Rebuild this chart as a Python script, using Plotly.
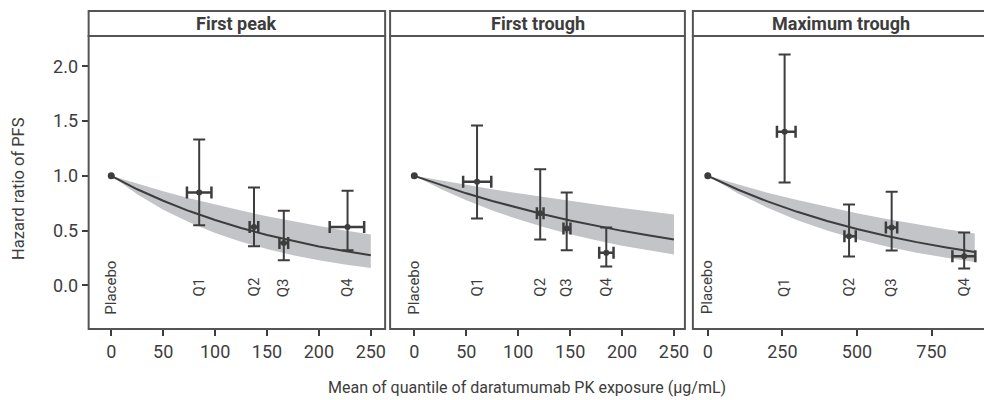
import plotly.graph_objects as go

# ---------------- data ----------------
panel_titles = ["First peak", "First trough", "Maximum trough"]
quartile_labels = ["Q1", "Q2", "Q3", "Q4"]
placebo_label = "Placebo"
placebo_hr = 1.0

# model-predicted curve and 95% band
peak_grid = [0, 25, 50, 75, 100, 125, 150, 175, 200, 225, 250]
peak_fit = [1.00, 0.877, 0.772, 0.678, 0.596, 0.523, 0.459, 0.404, 0.355, 0.312, 0.274]
peak_upper = [1.00, 0.926, 0.858, 0.794, 0.736, 0.682, 0.631, 0.585, 0.541, 0.501, 0.464]
peak_lower = [1.00, 0.832, 0.691, 0.575, 0.478, 0.398, 0.331, 0.275, 0.229, 0.190, 0.158]

trough_grid = [0, 25, 50, 75, 100, 125, 150, 175, 200, 225, 250]
trough_fit = [1.00, 0.917, 0.840, 0.770, 0.705, 0.646, 0.592, 0.543, 0.497, 0.456, 0.418]
trough_upper = [1.00, 0.957, 0.917, 0.878, 0.840, 0.804, 0.770, 0.737, 0.706, 0.676, 0.647]
trough_lower = [1.00, 0.881, 0.776, 0.683, 0.602, 0.530, 0.467, 0.411, 0.362, 0.319, 0.281]

max_grid = [0, 100, 200, 300, 400, 500, 600, 700, 800, 895]
max_fit = [1.00, 0.875, 0.766, 0.671, 0.587, 0.514, 0.450, 0.394, 0.345, 0.304]
max_upper = [1.00, 0.920, 0.846, 0.778, 0.715, 0.658, 0.605, 0.556, 0.512, 0.472]
max_lower = [1.00, 0.841, 0.708, 0.595, 0.501, 0.421, 0.354, 0.298, 0.251, 0.213]

# observed quartile hazard ratios
peak_x = [84.7, 137.5, 166.2, 227.6]
peak_xlo = [72.9, 133.3, 162.0, 210.4]
peak_xhi = [96.5, 141.6, 170.4, 243.6]
peak_hr = [0.848, 0.533, 0.385, 0.533]
peak_lo = [0.549, 0.357, 0.229, 0.320]
peak_hi = [1.333, 0.894, 0.680, 0.863]

trough_x = [60.4, 121.2, 146.7, 184.8]
trough_xlo = [47.0, 118.0, 143.6, 178.0]
trough_xhi = [74.1, 124.4, 150.3, 191.8]
trough_hr = [0.945, 0.659, 0.519, 0.296]
trough_lo = [0.610, 0.418, 0.320, 0.171]
trough_hi = [1.461, 1.060, 0.848, 0.528]

max_x = [257.5, 473.6, 616.4, 859.5]
max_xlo = [231.8, 458.0, 597.0, 820.0]
max_xhi = [294.3, 496.0, 635.0, 897.0]
max_hr = [1.403, 0.448, 0.528, 0.265]
max_lo = [0.940, 0.263, 0.317, 0.153]
max_hi = [2.110, 0.738, 0.854, 0.482]

x_ticks_small = [0, 50, 100, 150, 200, 250]
x_ticks_max = [0, 250, 500, 750]
y_ticks = [0.0, 0.5, 1.0, 1.5, 2.0]

x_title = "Mean of quantile of daratumumab PK exposure (µg/mL)"
y_title = "Hazard ratio of PFS"

# ---------------- styling ----------------
W, H = 984, 400
FONT = "Roboto, sans-serif"
DARK = "#3d3d3d"
BORDER = "#555555"
BAND = "#c3c4c8"
TICK_SIZE = 18

def px(xp):
    return xp / W

def py(yp):
    return 1 - yp / H

panel_px = [(89, 386.7), (391.7, 687.7), (695.7, 993)]
x_ranges = [[-21.8, 263.8], [-23.3, 260.5], [-50, 942.6]]
plot_top, plot_bot = 36, 329
strip_top = 11
y_range = [-0.40, 2.278]

panels = [
    (peak_grid, peak_fit, peak_upper, peak_lower, peak_x, peak_xlo, peak_xhi, peak_hr, peak_lo, peak_hi, x_ticks_small),
    (trough_grid, trough_fit, trough_upper, trough_lower, trough_x, trough_xlo, trough_xhi, trough_hr, trough_lo, trough_hi, x_ticks_small),
    (max_grid, max_fit, max_upper, max_lower, max_x, max_xlo, max_xhi, max_hr, max_lo, max_hi, x_ticks_max),
]

fig = go.Figure()
layout = dict(
    width=W, height=H,
    margin=dict(l=0, r=0, t=0, b=0),
    paper_bgcolor="white", plot_bgcolor="white",
    showlegend=False,
    font=dict(family=FONT, color=DARK, size=17),
)
shapes = []
annotations = []

for i, (grid, fit, up, lo, qx, qxlo, qxhi, qhr, qlo, qhi, xt) in enumerate(panels):
    n = "" if i == 0 else str(i + 1)
    xa, ya = "x" + n, "y" + n
    x0p, x1p = panel_px[i]
    dom_x = [px(x0p), min(1.0, px(x1p))]
    xr = x_ranges[i]
    if px(x1p) > 1.0:
        frac = (1.0 - px(x0p)) / (px(x1p) - px(x0p))
        xr = [xr[0], xr[0] + (xr[1] - xr[0]) * frac]

    # band
    fig.add_trace(go.Scatter(x=grid, y=lo, mode="lines", line=dict(width=0, color=BAND),
                             xaxis=xa, yaxis=ya, hoverinfo="skip"))
    fig.add_trace(go.Scatter(x=grid, y=up, mode="lines", line=dict(width=0, color=BAND),
                             fill="tonexty", fillcolor=BAND, xaxis=xa, yaxis=ya, hoverinfo="skip"))
    # fitted line
    fig.add_trace(go.Scatter(x=grid, y=fit, mode="lines", line=dict(width=2, color=DARK),
                             xaxis=xa, yaxis=ya))
    # placebo point
    fig.add_trace(go.Scatter(x=[grid[0]], y=[placebo_hr], mode="markers",
                             marker=dict(size=7, color=DARK), xaxis=xa, yaxis=ya))
    # quartile points with error bars
    fig.add_trace(go.Scatter(
        x=qx, y=qhr, mode="markers", marker=dict(size=6, color=DARK),
        error_x=dict(type="data", symmetric=False,
                     array=[h - c for h, c in zip(qxhi, qx)],
                     arrayminus=[c - l for l, c in zip(qxlo, qx)],
                     color=DARK, thickness=2.5, width=6),
        error_y=dict(type="data", symmetric=False,
                     array=[h - c for h, c in zip(qhi, qhr)],
                     arrayminus=[c - l for l, c in zip(qlo, qhr)],
                     color=DARK, thickness=2, width=6),
        xaxis=xa, yaxis=ya))

    layout["xaxis" + n] = dict(
        domain=dom_x, range=xr, anchor=ya, tickmode="array", tickvals=xt,
        ticktext=[str(v) for v in xt], ticks="outside", ticklen=6, tickwidth=2,
        tickcolor=DARK, showgrid=False, zeroline=False, showline=False,
        tickfont=dict(size=TICK_SIZE, color=DARK, family=FONT), fixedrange=True,
    )
    layout["yaxis" + n] = dict(
        domain=[py(plot_bot), py(plot_top)], range=y_range, anchor=xa,
        tickmode="array", tickvals=y_ticks, ticktext=[f"{v:.1f}" for v in y_ticks],
        ticks="outside" if i == 0 else "", ticklen=6, tickwidth=2, tickcolor=DARK,
        showticklabels=(i == 0), showgrid=False, zeroline=False, showline=False,
        tickfont=dict(size=TICK_SIZE, color=DARK, family=FONT), fixedrange=True,
    )

    # panel border
    shapes.append(dict(type="rect", xref="paper", yref="paper",
                       x0=px(x0p), x1=px(x1p), y0=py(plot_bot), y1=py(plot_top),
                       line=dict(color=BORDER, width=2), fillcolor="rgba(0,0,0,0)", layer="above"))
    # strip
    shapes.append(dict(type="rect", xref="paper", yref="paper",
                       x0=px(x0p), x1=px(x1p), y0=py(plot_top), y1=py(strip_top),
                       line=dict(color=BORDER, width=2), fillcolor="white", layer="above"))
    annotations.append(dict(text="<b>" + panel_titles[i] + "</b>", xref="paper", yref="paper",
                            x=px((x0p + x1p) / 2), y=py((strip_top + plot_top) / 2),
                            xanchor="center", yanchor="middle", showarrow=False,
                            font=dict(size=18, color=DARK, family=FONT)))
    # rotated group labels
    annotations.append(dict(text=placebo_label, xref=xa, yref=ya, x=grid[0], y=-0.02,
                            textangle=-90, showarrow=False, xanchor="center", yanchor="middle",
                            font=dict(size=15, color=DARK, family=FONT)))
    for lab, xv in zip(quartile_labels, qx):
        annotations.append(dict(text=lab, xref=xa, yref=ya, x=xv, y=-0.02,
                                textangle=-90, showarrow=False, xanchor="center", yanchor="middle",
                                font=dict(size=15, color=DARK, family=FONT)))

annotations.append(dict(text=x_title, xref="paper", yref="paper", x=px(529), y=py(387),
                        xanchor="center", yanchor="middle", showarrow=False,
                        font=dict(size=16, color=DARK, family=FONT)))
annotations.append(dict(text=y_title, xref="paper", yref="paper", x=px(18), y=py(188),
                        textangle=-90, xanchor="center", yanchor="middle", showarrow=False,
                        font=dict(size=16.5, color=DARK, family=FONT)))

layout["shapes"] = shapes
layout["annotations"] = annotations
fig.update_layout(**layout)
fig.write_html("out.html")
